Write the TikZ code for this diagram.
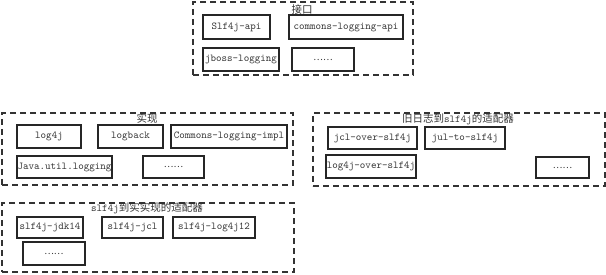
\documentclass[tikz,border=0pt]{standalone}
\usepackage{fontspec}
\newfontfamily\cjk{Noto Sans CJK SC}
\begin{document}
\begin{tikzpicture}[x=1pt,y=-1pt,
  item/.style={draw=black!85,line width=1.1pt,rectangle,inner sep=0pt,font=\fontsize{10.5}{12}\ttfamily,text=black!80},
  grp/.style={draw=black!80,line width=1.1pt,dash pattern=on 6pt off 4pt,rectangle,inner sep=0pt},
  ttl/.style={inner sep=0pt,font=\fontsize{10.5}{12}\ttfamily,text=black!80},
  more/.style={font=\fontsize{9}{10}\cjk}]
\useasboundingbox (0,0) rectangle (606,275);
\node[grp,minimum width=220,minimum height=73] (apigrp) at (303,38.5) {};
\node[ttl] (apittl) at (302,9.5) {\cjk 接口};
\node[item,minimum width=67,minimum height=24] (sapi) at (236.5,27) {Slf4j-api};
\node[item,minimum width=114,minimum height=24] (clapi) at (346,27) {commons-logging-api};
\node[item,minimum width=76,minimum height=23] (jboss) at (241,59.5) {jboss-logging};
\node[item,more,minimum width=62,minimum height=23] (apimore) at (323,59.5) {……};

\node[grp,minimum width=291,minimum height=72] (implgrp) at (147.5,149) {};
\node[ttl] (implttl) at (147,118) {\cjk 实现};
\node[item,minimum width=64,minimum height=23] (log4j) at (49,136.5) {log4j};
\node[item,minimum width=65,minimum height=23] (logback) at (130.5,136.5) {logback};
\node[item,minimum width=116,minimum height=23] (climpl) at (229,136.5) {Commons-logging-impl};
\node[item,minimum width=95,minimum height=22] (jul) at (64.5,167) {Java.util.logging};
\node[item,more,minimum width=61,minimum height=22] (implmore) at (173.5,167) {……};

\node[grp,minimum width=292,minimum height=73] (bridgegrp) at (459,149.5) {};
\node[ttl] (bridgettl) at (458,119) {{\cjk 旧日志到}slf4j{\cjk 的适配器}};
\node[item,minimum width=89,minimum height=22] (jcl) at (372.5,138) {jcl-over-slf4j};
\node[item,minimum width=80,minimum height=22] (jultoslf) at (465,138) {jul-to-slf4j};
\node[item,minimum width=90,minimum height=23] (log4jover) at (371,166.5) {log4j-over-slf4j};
\node[item,more,minimum width=53,minimum height=21] (bridgemore) at (562.5,167.5) {……};

\node[grp,minimum width=292,minimum height=69] (bindgrp) at (148,237.5) {};
\node[ttl] (bindttl) at (147,208) {slf4j{\cjk 到实实现的适配器}};
\node[item,minimum width=66,minimum height=21] (jdk14) at (50,227.5) {slf4j-jdk14};
\node[item,minimum width=61,minimum height=21] (bindjcl) at (132.5,227.5) {slf4j-jcl};
\node[item,minimum width=82,minimum height=21] (log4j12) at (214,227.5) {slf4j-log4j12};
\node[item,more,minimum width=62,minimum height=23] (bindmore) at (54,253.5) {……};
\end{tikzpicture}
\end{document}
